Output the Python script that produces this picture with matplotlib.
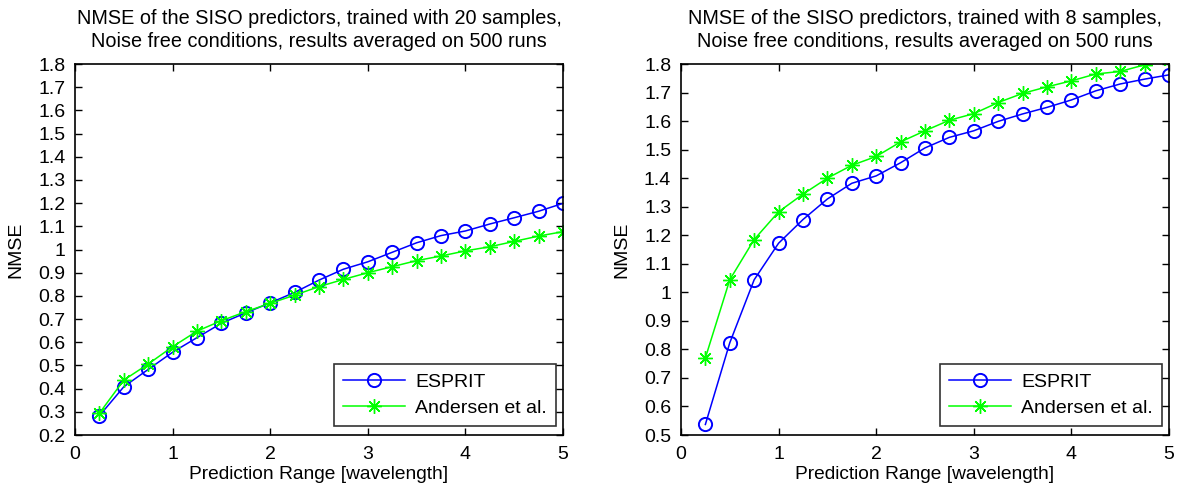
import numpy as np
import matplotlib
matplotlib.use("Agg")
import matplotlib.pyplot as plt

plt.rcParams['font.family'] = ['Liberation Sans', 'DejaVu Sans']

x_range = [0.25, 0.5, 0.75, 1.0, 1.25, 1.5, 1.75, 2.0, 2.25, 2.5,
           2.75, 3.0, 3.25, 3.5, 3.75, 4.0, 4.25, 4.5, 4.75, 5.0]

# Left: trained with 20 samples
esprit_20 = [0.283, 0.408, 0.483, 0.557, 0.620, 0.682, 0.727, 0.770, 0.815, 0.868,
             0.915, 0.947, 0.988, 1.029, 1.060, 1.080, 1.110, 1.137, 1.165, 1.199]
andersen_20 = [0.294, 0.437, 0.506, 0.581, 0.648, 0.693, 0.732, 0.768, 0.803, 0.840,
               0.871, 0.900, 0.926, 0.952, 0.972, 0.994, 1.012, 1.035, 1.058, 1.077]

# Right: trained with 8 samples
esprit_8 = [0.537, 0.823, 1.044, 1.172, 1.255, 1.327, 1.382, 1.408, 1.454, 1.506,
            1.543, 1.566, 1.599, 1.625, 1.648, 1.674, 1.706, 1.730, 1.747, 1.762]
andersen_8 = [0.770, 1.044, 1.185, 1.282, 1.344, 1.400, 1.445, 1.476, 1.527, 1.566,
              1.603, 1.626, 1.665, 1.697, 1.720, 1.741, 1.765, 1.774, 1.797, 1.815]

titles = ["NMSE of the SISO predictors, trained with 20 samples,\nNoise free conditions, results averaged on 500 runs",
          "NMSE of the SISO predictors, trained with 8 samples,\nNoise free conditions, results averaged on 500 runs"]
ylims = [(0.2, 1.8), (0.5, 1.8)]
xticks = [0, 1, 2, 3, 4, 5]
yticks_list = [np.round(np.arange(0.2, 1.81, 0.1), 1), np.round(np.arange(0.5, 1.81, 0.1), 1)]
series = [(esprit_20, andersen_20), (esprit_8, andersen_8)]
labels = ["ESPRIT", "Andersen et al."]

fig = plt.figure(figsize=(11.81, 4.97), dpi=100)
axes_pos = [[0.0635, 0.1247, 0.4132, 0.7465], [0.5766, 0.1247, 0.4132, 0.7465]]

for i in range(2):
    ax = fig.add_axes(axes_pos[i])
    e, a = series[i]
    ax.plot(x_range, e, color=(0, 0, 1), lw=1.1, marker='o', ms=9.5,
            mfc='none', mec=(0, 0, 1), mew=1.4, label=labels[0], clip_on=True)
    ax.plot(x_range, a, color=(0, 1, 0), lw=1.1, marker=(8, 2, 0), ms=10.5,
            mec=(0, 1, 0), mew=1.0, label=labels[1], clip_on=True)
    ax.set_xlim(0, 5)
    ax.set_ylim(*ylims[i])
    ax.set_xticks(xticks)
    ax.set_xticklabels([str(t) for t in xticks])
    ax.set_yticks(yticks_list[i])
    ax.set_yticklabels([f"{v:g}" for v in yticks_list[i]])
    ax.tick_params(direction='in', length=5, width=1, top=True, right=True,
                   labelsize=14, colors='black')
    ax.tick_params(axis='x', pad=8)
    ax.tick_params(axis='y', pad=7)
    for s in ax.spines.values():
        s.set_linewidth(1.2)
        s.set_color('black')
    ax.set_title(titles[i], fontsize=14.3, pad=12, linespacing=1.3)
    ax.set_xlabel("Prediction Range [wavelength]", fontsize=13.8, labelpad=2)
    ax.set_ylabel("NMSE", fontsize=14, labelpad=10)
    leg = ax.legend(loc='lower right', bbox_to_anchor=(0.985, 0.025), fontsize=14,
                    frameon=True, fancybox=False, edgecolor='black',
                    borderpad=0.45, handlelength=3.2, labelspacing=0.45,
                    handletextpad=0.5, borderaxespad=0.0)
    leg.get_frame().set_linewidth(1.2)

fig.savefig("out.png", dpi=100, facecolor='white')
